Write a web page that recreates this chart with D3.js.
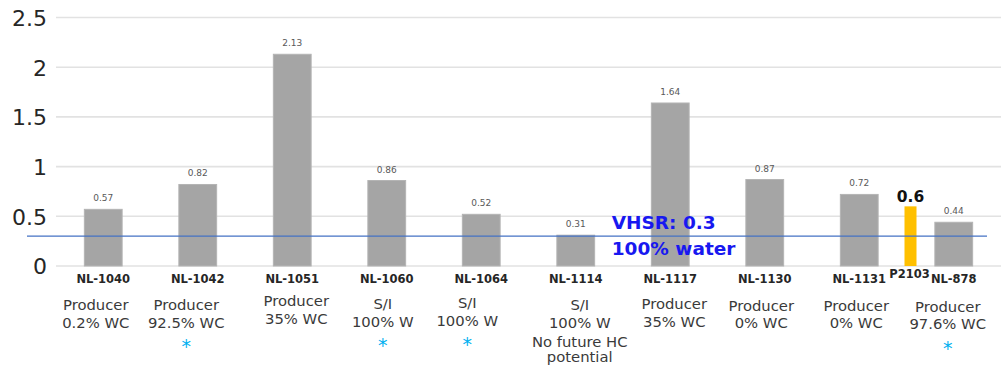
<!DOCTYPE html>
<html>
<head>
<meta charset="utf-8">
<script src="https://cdn.jsdelivr.net/npm/d3@7"></script>
<style>
  html, body { margin: 0; padding: 0; background: #fff; }
  svg { display: block; }
</style>
</head>
<body>
<svg id="chart" width="1005" height="370"></svg>
<script>
// Wells and their ratio values
const wells = ["NL-1040", "NL-1042", "NL-1051", "NL-1060", "NL-1064", "NL-1114", "NL-1117", "NL-1130", "NL-1131", "NL-878"];
const ratios = [0.57, 0.82, 2.13, 0.86, 0.52, 0.31, 1.64, 0.87, 0.72, 0.44];

// Notes printed under each well
const wellNotes = [
  ["Producer", "0.2% WC"],
  ["Producer", "92.5% WC"],
  ["Producer", "35% WC"],
  ["S/I", "100% W"],
  ["S/I", "100% W"],
  ["S/I", "100% W", "No future HC", "potential"],
  ["Producer", "35% WC"],
  ["Producer", "0% WC"],
  ["Producer", "0% WC"],
  ["Producer", "97.6% WC"]
];
const flagged = [false, true, false, true, true, false, false, false, false, true];

// Candidate well shown in highlight colour
const candidateName = "P2103";
const candidateRatio = 0.6;

// Reference threshold
const vhsrValue = 0.3;
const vhsrLines = ["VHSR: 0.3", "100% water"];

const yTicks = [0, 0.5, 1, 1.5, 2, 2.5];

const svg = d3.select("#chart");

const x = d3.scaleBand().domain(wells).range([56, 1001]).paddingInner(0.6).paddingOuter(0.3);
const y = d3.scaleLinear().domain([0, 2.5]).range([266, 17.5]);
const xc = d => x(d) + x.bandwidth() / 2;

// Gridlines
svg.append("g")
  .selectAll("line")
  .data(yTicks)
  .join("line")
  .attr("x1", x.range()[0]).attr("x2", x.range()[1])
  .attr("y1", d => y(d)).attr("y2", d => y(d))
  .attr("stroke", "#e2e2e2").attr("stroke-width", 1.6);

// Y axis labels
const yAxis = d3.axisLeft(y).tickValues(yTicks).tickFormat(d3.format("~g")).tickSize(0).tickPadding(0);
const yg = svg.append("g").attr("transform", "translate(47,0)").call(yAxis);
yg.select(".domain").remove();
yg.selectAll("text")
  .attr("font-family", "DejaVu Sans")
  .attr("font-size", 22)
  .attr("fill", "#262626")
  .attr("dy", "0.36em");

// Gray bars
svg.append("g")
  .selectAll("rect")
  .data(wells)
  .join("rect")
  .attr("x", d => x(d))
  .attr("width", x.bandwidth())
  .attr("y", (d, i) => y(ratios[i]))
  .attr("height", (d, i) => y(0) - y(ratios[i]))
  .attr("fill", "#a5a5a5")
  .attr("stroke", "#b4b4b4")
  .attr("stroke-width", 1);

// Value labels
svg.append("g")
  .selectAll("text")
  .data(wells)
  .join("text")
  .attr("x", d => xc(d))
  .attr("y", (d, i) => y(ratios[i]) - 8)
  .attr("text-anchor", "middle")
  .attr("font-family", "DejaVu Sans")
  .attr("font-size", 9)
  .attr("fill", "#595959")
  .text((d, i) => d3.format(".2f")(ratios[i]));

// Candidate bar sits between the last two wells
const candX = (x(wells[8]) + x.bandwidth() + x(wells[9])) / 2 + 4;
const candW = 12;
svg.append("rect")
  .attr("x", candX - candW / 2)
  .attr("width", candW)
  .attr("y", y(candidateRatio))
  .attr("height", y(0) - y(candidateRatio))
  .attr("fill", "#ffc000");
svg.append("text")
  .attr("x", candX)
  .attr("y", y(candidateRatio) - 4.5)
  .attr("text-anchor", "middle")
  .attr("font-family", "DejaVu Sans")
  .attr("font-weight", "bold")
  .attr("font-size", 15.5)
  .attr("fill", "#111")
  .text(d3.format(".1f")(candidateRatio));
svg.append("text")
  .attr("x", candX - 1)
  .attr("y", 277.5)
  .attr("text-anchor", "middle")
  .attr("font-family", "DejaVu Sans")
  .attr("font-weight", "bold")
  .attr("font-size", 11.5)
  .attr("fill", "#262626")
  .text(candidateName);

// Threshold line
svg.append("line")
  .attr("x1", x.range()[0] - 29).attr("x2", x.range()[1] - 14)
  .attr("y1", y(vhsrValue)).attr("y2", y(vhsrValue))
  .attr("stroke", "#4472c4").attr("stroke-width", 1.2);

svg.append("g")
  .selectAll("text")
  .data(vhsrLines)
  .join("text")
  .attr("x", xc("NL-1114") + 36)
  .attr("y", (d, i) => 228.5 + i * 26.5)
  .attr("font-family", "DejaVu Sans")
  .attr("font-weight", "bold")
  .attr("font-size", 18.5)
  .attr("fill", "#1818f0")
  .text(d => d);

// Well names under the axis
svg.append("g")
  .selectAll("text")
  .data(wells)
  .join("text")
  .attr("x", d => xc(d))
  .attr("y", 282.5)
  .attr("text-anchor", "middle")
  .attr("font-family", "DejaVu Sans")
  .attr("font-weight", "bold")
  .attr("font-size", 11.5)
  .attr("fill", "#262626")
  .text(d => d);

// Note text boxes, nudged as laid out on the slide
const noteDx = [-7.5, -11.5, 4, -4, -14, 4, 4, -3.5, -3, -6];
const noteDy = [0, 0, -4, -1, -2, 0, -1, 0.5, 0.5, 1.5];

const notes = svg.append("g")
  .selectAll("g")
  .data(wells)
  .join("g")
  .attr("transform", (d, i) => `translate(${xc(d) + noteDx[i]},${310 + noteDy[i]})`);

notes.selectAll("text.note")
  .data((d, i) => wellNotes[i])
  .join("text")
  .attr("class", "note")
  .attr("x", 0)
  .attr("y", (d, j) => j < 2 ? j * 17.5 : 37 + (j - 2) * 15)
  .attr("text-anchor", "middle")
  .attr("font-family", "DejaVu Sans")
  .attr("font-size", 14.8)
  .attr("fill", "#3a3a3a")
  .text(d => d);

notes.filter((d, i) => flagged[i])
  .append("text")
  .attr("x", 0)
  .attr("y", 43)
  .attr("text-anchor", "middle")
  .attr("font-family", "DejaVu Sans")
  .attr("font-size", 19)
  .attr("fill", "#00b0f0")
  .text("*");
</script>
</body>
</html>
